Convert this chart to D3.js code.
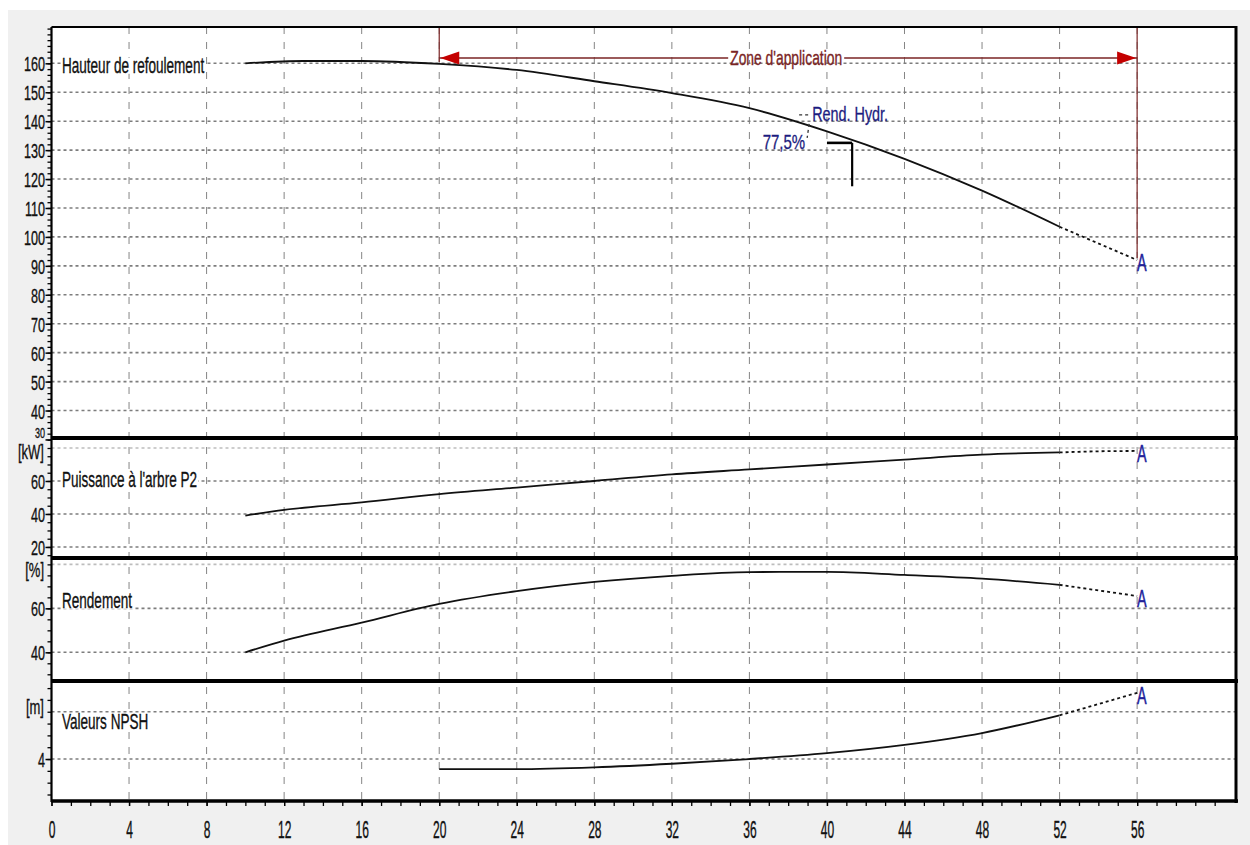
<!DOCTYPE html>
<html>
<head>
<meta charset="utf-8">
<script src="https://cdn.jsdelivr.net/npm/d3@7"></script>
<style>
  body { margin: 0; background: #fff; }
  text { font-family: "Liberation Sans", Arial, sans-serif; }
</style>
</head>
<body>
<div id="chart"></div>
<script>
// ---- data ----
const flowTicks = [0, 4, 8, 12, 16, 20, 24, 28, 32, 36, 40, 44, 48, 52, 56];

const headQ = [10, 13, 16, 20, 24, 28, 32, 36, 40, 44, 48, 52, 56];
const headH = [160, 160.8, 160.8, 159.8, 157.7, 153.8, 149.7, 144.5, 136.5, 127, 116, 103.5, 92];

const powerQ = [10, 12, 16, 20, 24, 28, 32, 36, 40, 44, 48, 52, 54, 56];
const powerP = [39, 42.5, 47, 52, 56, 60, 64, 67, 70, 73, 76, 77.3, 78, 78.2];

const effQ = [10, 12, 16, 20, 24, 28, 32, 36, 40, 44, 48, 52, 56];
const effE = [40, 45.3, 53.5, 62, 67.8, 72, 74.8, 76.5, 76.6, 75.2, 73.5, 70.7, 65.6];

const npshQ = [20, 24, 28, 32, 36, 40, 44, 48, 52, 56];
const npshV = [3.15, 3.15, 3.3, 3.6, 4, 4.5, 5.2, 6.2, 7.7, 9.6];

const headTicks = [30, 40, 50, 60, 70, 80, 90, 100, 110, 120, 130, 140, 150, 160];
const powerTicks = [20, 40, 60];
const effTicks = [40, 60];
const npshTicks = [4];

const zoneStart = 20, zoneEnd = 56, solidEnd = 52;
const opQ = 41.3, opH = 132.5, opLabel = "77,5%";

// ---- layout ----
const W = 1250, H = 845;
const pLeft = 51.5, pRight = 1236, pTop = 27, pBottom = 801;

// squeeze text horizontally around its x anchor (the original uses a narrow font)
function squash(sel, sx) {
  sel.each(function () {
    const t = d3.select(this);
    const x0 = +t.attr("x") || 0;
    t.attr("transform", `translate(${x0},0) scale(${sx},1) translate(${-x0},0)`);
  });
}

const svg = d3.select("#chart").append("svg")
  .attr("width", W).attr("height", H);

svg.append("rect").attr("x", 8).attr("y", 10).attr("width", W - 8).attr("height", H - 10)
  .attr("fill", "#f0f0f0");
svg.append("rect").attr("x", pLeft).attr("y", pTop).attr("width", pRight - pLeft).attr("height", pBottom - pTop)
  .attr("fill", "#fff");

const x = d3.scaleLinear().domain([0, 61.1]).range([pLeft, pRight]);

// panels: y domain / pixel band
const panels = [
  { key: "head", q: headQ, v: headH, domain: [30.5, 172.55], band: [438, pTop], ticks: headTicks,
    grid: d3.range(40, 161, 10), light: [], minor: 2, label: "Hauteur de refoulement", labelBase: 73, unit: null },
  { key: "power", q: powerQ, v: powerP, domain: [13.3, 86.06], band: [558, 438], ticks: powerTicks,
    grid: [20, 40, 60, 80], light: [80], minor: 5, label: "Puissance à l'arbre P2", labelBase: 487, unit: "[kW]", unitBase: 459 },
  { key: "eff", q: effQ, v: effE, domain: [26.95, 82.9], band: [681, 558], ticks: effTicks,
    grid: [40, 60, 80], light: [80], minor: 5, label: "Rendement", labelBase: 608, unit: "[%]", unitBase: 577 },
  { key: "npsh", q: npshQ, v: npshV, domain: [0.45, 10.6], band: [pBottom, 681], ticks: npshTicks,
    grid: [4, 8], light: [], minor: 1, label: "Valeurs NPSH", labelBase: 729, unit: "[m]", unitBase: 714 }
];
panels.forEach(p => { p.y = d3.scaleLinear().domain(p.domain).range(p.band); });

// vertical dashed grid
svg.append("g").selectAll("line")
  .data(flowTicks.filter(d => d > 0))
  .join("line")
  .attr("x1", d => x(d)).attr("x2", d => x(d))
  .attr("y1", pTop).attr("y2", pBottom)
  .attr("stroke", "#858585").attr("stroke-width", 1)
  .attr("stroke-dasharray", "7,8");

// horizontal dotted grid, per panel
panels.forEach(p => {
  svg.append("g").selectAll("line")
    .data(p.grid)
    .join("line")
    .attr("x1", pLeft).attr("x2", pRight)
    .attr("y1", d => p.y(d)).attr("y2", d => p.y(d))
    .attr("stroke", d => p.light.includes(d) ? "#bdbdbd" : "#7d7d7d")
    .attr("stroke-width", 1.6)
    .attr("stroke-dasharray", "3,3");
});

// curves
const line = (p) => d3.line().x(d => x(d[0])).y(d => p.y(d[1])).curve(d3.curveMonotoneX);
panels.forEach(p => {
  const pts = p.q.map((q, i) => [q, p.v[i]]);
  svg.append("path")
    .datum(pts.filter(d => d[0] <= solidEnd))
    .attr("d", line(p))
    .attr("fill", "none").attr("stroke", "#111").attr("stroke-width", 1.8);
  svg.append("path")
    .datum(pts.filter(d => d[0] >= solidEnd))
    .attr("d", line(p))
    .attr("fill", "none").attr("stroke", "#111").attr("stroke-width", 1.8)
    .attr("stroke-dasharray", "3,3");
  // "A" marker at the end of the curve
  const last = pts[pts.length - 1];
  svg.append("text")
    .attr("x", x(last[0])).attr("y", p.y(last[1]) + 11)
    .attr("font-size", 24).attr("fill", "#22229a")
    .attr("stroke", "#22229a").attr("stroke-width", 0.5)
    .text("A")
    .call(squash, 0.6);
});

// zone d'application
const headP = panels[0];
const zoneY = 58;
const zoneColor = "#7a2424";
svg.append("line")
  .attr("x1", x(zoneStart)).attr("x2", x(zoneStart))
  .attr("y1", pTop).attr("y2", zoneY + 4)
  .attr("stroke", zoneColor).attr("stroke-width", 1.2);
svg.append("line")
  .attr("x1", x(zoneEnd)).attr("x2", x(zoneEnd))
  .attr("y1", pTop).attr("y2", headP.y(headH[headH.length - 1]) - 2)
  .attr("stroke", zoneColor).attr("stroke-width", 1.2);
svg.append("line")
  .attr("x1", x(zoneStart)).attr("x2", x(zoneEnd))
  .attr("y1", zoneY).attr("y2", zoneY)
  .attr("stroke", zoneColor).attr("stroke-width", 1.5);
const arrow = (tip, dir) => {
  const b = tip + dir * 19;
  return `M${tip},${zoneY} L${b},${zoneY - 6.5} L${b},${zoneY + 6.5} Z`;
};
svg.append("path").attr("d", arrow(x(zoneStart) + 1, 1)).attr("fill", "#c40000");
svg.append("path").attr("d", arrow(x(zoneEnd) - 1, -1)).attr("fill", "#c40000");
const zoneMid = (x(zoneStart) + x(zoneEnd)) / 2 - 2;
svg.append("rect")
  .attr("x", zoneMid - 58).attr("y", zoneY - 2).attr("width", 116).attr("height", 4)
  .attr("fill", "#fff");
svg.append("text")
  .attr("x", zoneMid).attr("y", zoneY + 7)
  .attr("text-anchor", "middle").attr("font-size", 21).attr("fill", zoneColor)
  .attr("stroke", zoneColor).attr("stroke-width", 0.35)
  .text("Zone d'application")
  .call(squash, 0.66);

// operating point
const ox = x(opQ), oy = headP.y(opH);
svg.append("line").attr("x1", x(40)).attr("x2", ox).attr("y1", oy).attr("y2", oy)
  .attr("stroke", "#000").attr("stroke-width", 2.6);
svg.append("line").attr("x1", ox).attr("x2", ox).attr("y1", oy).attr("y2", headP.y(opH - 15))
  .attr("stroke", "#000").attr("stroke-width", 2.2);
svg.append("path")
  .attr("d", `M${ox - 53},${oy - 28} L${ox - 41},${oy - 28} M${ox - 43},${oy - 19} L${ox - 45},${oy - 5}`)
  .attr("stroke", "#333").attr("stroke-width", 1.3).attr("stroke-dasharray", "3,3").attr("fill", "none");
svg.append("text")
  .attr("x", ox - 40).attr("y", oy - 22)
  .attr("font-size", 20).attr("fill", "#1c1c80")
  .attr("stroke", "#1c1c80").attr("stroke-width", 0.3)
  .text("Rend. Hydr.")
  .call(squash, 0.72);
svg.append("text")
  .attr("x", ox - 47).attr("y", oy + 6)
  .attr("text-anchor", "end").attr("font-size", 20).attr("fill", "#1c1c80")
  .attr("stroke", "#1c1c80").attr("stroke-width", 0.3)
  .text(opLabel)
  .call(squash, 0.75);

// panel labels
panels.forEach(p => {
  const t = svg.append("text")
    .attr("x", 62).attr("y", p.labelBase)
    .attr("font-size", 21.5).attr("fill", "#111")
    .attr("stroke", "#111").attr("stroke-width", 0.35)
    .text(p.label)
    .call(squash, 0.63);
  const b = t.node().getBoundingClientRect();
  svg.insert("rect", () => t.node())
    .attr("x", b.x - 1).attr("y", b.y + 4).attr("width", b.width + 2).attr("height", b.height - 8)
    .attr("fill", "#fff");
});

// y axes
panels.forEach(p => {
  const [lo, hi] = p.domain;
  const minor = d3.range(Math.ceil(lo / p.minor) * p.minor, hi, p.minor);
  svg.append("g")
    .attr("transform", `translate(${pLeft},0)`)
    .call(d3.axisLeft(p.y).tickValues(minor).tickSize(4).tickFormat(""))
    .call(g => g.select(".domain").remove())
    .call(g => g.selectAll("line").attr("stroke", "#000").attr("stroke-width", 1.3));
  // the lowest head label sits squeezed against the panel separator
  const edge = d => p.key === "head" && d === 30;
  svg.append("g")
    .attr("transform", `translate(${pLeft},0)`)
    .call(d3.axisLeft(p.y).tickValues(p.ticks).tickSize(6).tickPadding(1))
    .call(g => g.select(".domain").remove())
    .call(g => g.selectAll("line").attr("stroke", "#000").attr("stroke-width", 1.5))
    .call(g => g.selectAll("text")
      .attr("x", -6.5)
      .attr("dy", d => edge(d) ? "-0.1em" : "0.36em")
      .attr("font-size", d => edge(d) ? 15 : 21).attr("fill", "#111")
      .attr("stroke", "#111").attr("stroke-width", 0.35)
      .attr("font-family", "'Liberation Sans',Arial,sans-serif")
      .call(squash, 0.6));
  if (p.unit) {
    svg.append("text")
      .attr("x", 44).attr("y", p.unitBase)
      .attr("text-anchor", "end").attr("font-size", 20).attr("fill", "#111")
      .attr("stroke", "#111").attr("stroke-width", 0.35)
      .text(p.unit)
      .call(squash, 0.65);
  }
});

// x axis
const xMinor = d3.range(0, 61, 1);
svg.append("g")
  .attr("transform", `translate(0,${pBottom})`)
  .call(d3.axisBottom(x).tickValues(xMinor).tickSize(5).tickFormat(""))
  .call(g => g.select(".domain").remove())
  .call(g => g.selectAll("line").attr("stroke", "#000").attr("stroke-width", 1.3));
svg.append("g")
  .attr("transform", `translate(0,${pBottom})`)
  .call(d3.axisBottom(x).tickValues(flowTicks).tickSize(5))
  .call(g => g.select(".domain").remove())
  .call(g => g.selectAll("line").attr("stroke", "#000").attr("stroke-width", 1.3))
  .call(g => g.selectAll("text")
    .attr("y", 37).attr("dy", null)
    .attr("font-size", 24).attr("fill", "#111")
    .attr("stroke", "#111").attr("stroke-width", 0.4)
    .attr("font-family", "'Liberation Sans',Arial,sans-serif")
    .call(squash, 0.5));

// frame and panel separators
[438, 558, 681].forEach(yy => {
  svg.append("line").attr("x1", pLeft).attr("x2", pRight + 2).attr("y1", yy).attr("y2", yy)
    .attr("stroke", "#000").attr("stroke-width", 4);
});
svg.append("line").attr("x1", pLeft).attr("x2", pRight + 2).attr("y1", pBottom).attr("y2", pBottom)
  .attr("stroke", "#000").attr("stroke-width", 3.5);
svg.append("line").attr("x1", pLeft).attr("x2", pRight).attr("y1", pTop).attr("y2", pTop)
  .attr("stroke", "#000").attr("stroke-width", 2);
svg.append("line").attr("x1", pLeft).attr("x2", pLeft).attr("y1", pTop).attr("y2", pBottom + 1)
  .attr("stroke", "#000").attr("stroke-width", 2.2);
svg.append("line").attr("x1", pRight).attr("x2", pRight).attr("y1", pTop - 1).attr("y2", pBottom + 2)
  .attr("stroke", "#000").attr("stroke-width", 3);
</script>
</body>
</html>
